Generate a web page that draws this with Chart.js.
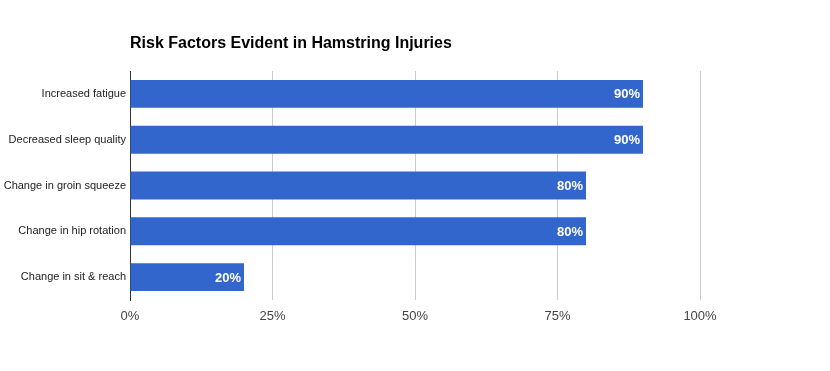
<!DOCTYPE html>
<html><head><meta charset="utf-8">
<script src="https://cdn.jsdelivr.net/npm/chart.js@4/dist/chart.umd.min.js"></script>
<style>html,body{margin:0;padding:0;background:#fff}#wrap{width:830px;height:371px;position:relative}</style>
</head><body><div id="wrap"><canvas id="c" width="830" height="371"></canvas></div>
<script>
const title = "Risk Factors Evident in Hamstring Injuries";
const categories = ["Increased fatigue","Decreased sleep quality","Change in groin squeeze","Change in hip rotation","Change in sit & reach"];
const values = [90, 90, 80, 80, 20];
const tickValues = [0, 25, 50, 75, 100];

const FONT = "'Liberation Sans', Arial, sans-serif";

const titlePlugin = {
  id: 'leftTitle',
  afterDraw(chart) {
    const ctx = chart.ctx;
    ctx.save();
    ctx.font = "bold 16px " + FONT;
    ctx.fillStyle = "#000";
    ctx.textAlign = "left";
    ctx.textBaseline = "middle";
    ctx.fillText(title, chart.chartArea.left, 44);
    ctx.restore();
  }
};
const labelPlugin = {
  id: 'barLabels',
  afterDatasetsDraw(chart) {
    const ctx = chart.ctx;
    const meta = chart.getDatasetMeta(0);
    ctx.save();
    ctx.font = "bold 13px " + FONT;
    ctx.fillStyle = "#fff";
    ctx.textAlign = "right";
    ctx.textBaseline = "middle";
    meta.data.forEach((el, i) => {
      ctx.fillText(values[i] + "%", el.x - 3, el.y + 1);
    });
    ctx.restore();
  }
};

new Chart(document.getElementById('c'), {
  type: 'bar',
  data: { labels: categories, datasets: [{ data: values, backgroundColor: '#3366cc', categoryPercentage: 1, barPercentage: 0.61 }] },
  options: {
    responsive: false, animation: false, indexAxis: 'y',
    layout: { padding: { top: 71, right: 130, left: 0, bottom: 0 } },
    plugins: { legend: { display: false }, tooltip: { enabled: false }, title: { display: false } },
    scales: {
      x: {
        min: 0, max: 100,
        afterBuildTicks(s) { s.ticks = tickValues.map(v => ({ value: v })); },
        afterFit(s) { s.height = 71; },
        ticks: { callback: v => v + '%', color: '#444', font: { family: FONT, size: 13 }, padding: 9, maxRotation: 0 },
        grid: { color: ctx => ctx.tick && ctx.tick.value === 0 ? 'rgba(0,0,0,0)' : '#cccccc', drawTicks: false },
        border: { display: false }
      },
      y: {
        afterFit(s) { s.width = 130; },
        ticks: { color: '#222', font: { family: FONT, size: 11 }, padding: 4 },
        grid: { display: false, drawTicks: false },
        border: { display: true, color: '#333', width: 1 }
      }
    }
  },
  plugins: [titlePlugin, labelPlugin]
});
</script></body></html>
